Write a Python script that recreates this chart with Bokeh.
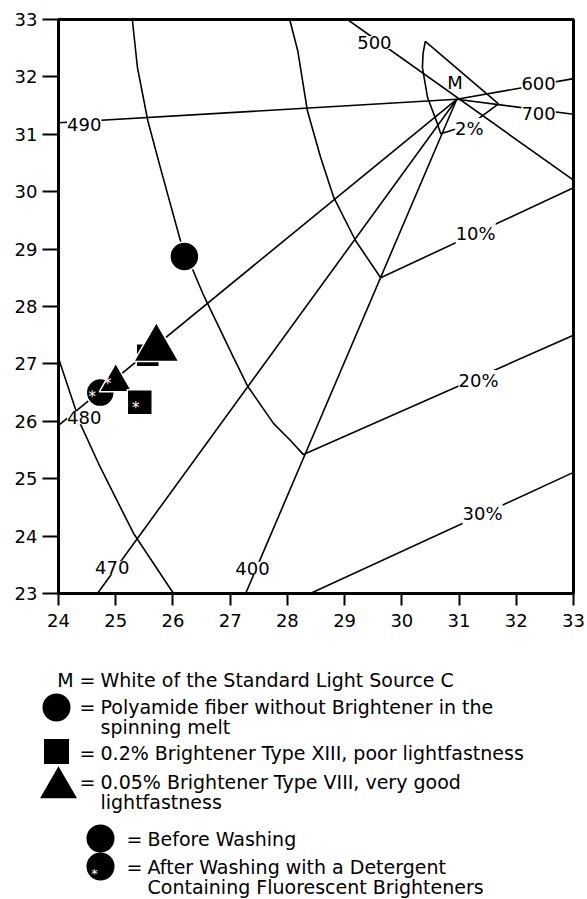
from bokeh.plotting import figure
from bokeh.models import ColumnDataSource, LabelSet, FixedTicker, Range1d
from bokeh.layouts import column
from bokeh.embed import file_html
from bokeh.resources import INLINE
from bokeh.core.properties import value

FONT = "DejaVu Sans"

# ---------------- data ----------------
x_ticks = [24, 25, 26, 27, 28, 29, 30, 31, 32, 33]
y_ticks = [23, 24, 25, 26, 27, 28, 29, 30, 31, 32, 33]

# white point M (Standard Light Source C)
m_x = 30.96
m_y = 31.61

# dominant-wavelength lines radiating from M (end points)
ray_names = ["490", "600", "700", "480", "470", "400"]
ray_end_x = [24.0, 33.0, 33.0, 24.0, 24.68, 27.27]
ray_end_y = [31.20, 31.97, 31.35, 25.93, 23.0, 23.0]

# the 500 nm line passes through M
line500_x = [29.05, 33.0]
line500_y = [33.0, 30.20]

# constant-lightness curves with their saturation branches
curve_a_x = [25.29, 25.38, 25.56, 25.78, 26.13, 26.52, 27.06, 27.30, 27.76, 28.05, 28.28, 33.0]
curve_a_y = [33.0, 32.16, 31.24, 30.42, 29.15, 28.23, 27.11, 26.62, 25.96, 25.67, 25.42, 27.50]
curve_b_x = [28.04, 28.18, 28.35, 28.58, 28.81, 29.19, 29.63, 33.0]
curve_b_y = [33.0, 32.46, 31.41, 30.60, 29.90, 29.15, 28.50, 30.07]
curve_c_x = [24.0, 24.20, 24.38, 24.73, 25.31, 26.01]
curve_c_y = [27.10, 26.50, 25.96, 25.20, 24.05, 23.0]
sat30_x = [28.40, 33.0]
sat30_y = [23.0, 25.11]
# 2 % region around M
locus_x = [31.69, 30.41, 30.37, 30.36, 30.45, 30.62, 30.68, 31.20, 31.69]
locus_y = [31.53, 32.62, 32.40, 32.16, 31.64, 31.19, 31.01, 31.17, 31.53]

# contour / wavelength labels
lab_text = ["490", "500", "600", "700", "480", "470", "400", "10%", "20%", "30%", "2%"]
lab_x = [24.45, 29.52, 32.39, 32.39, 24.45, 24.94, 27.39, 31.29, 31.34, 31.41, 31.18]
lab_y = [31.17, 32.60, 31.88, 31.37, 26.06, 23.45, 23.44, 29.27, 26.71, 24.39, 31.10]

# samples: polyamide (no brightener), 0.2% Type XIII, 0.05% Type VIII
sample_marker = ["circle", "square", "triangle"]
before_x = [26.20, 25.56, 25.71]
before_y = [28.87, 27.15, 27.27]
after_x = [24.73, 25.42, 25.00]
after_y = [26.50, 26.33, 26.68]

# legend texts
legend_lines = [
    "White of the Standard Light Source C",
    "Polyamide fiber without Brightener in the",
    "spinning melt",
    "0.2% Brightener Type XIII, poor lightfastness",
    "0.05% Brightener Type VIII, very good",
    "lightfastness",
    "Before Washing",
    "After Washing with a Detergent",
    "Containing Fluorescent Brighteners",
]

# ---------------- styles ----------------
before_size = [29, 23, 45]
after_size = [28, 25, 33]
after_star_dx = [-8, -4, -8]
after_star_dy = [4, 6, 2]

W = 587
H_MAIN = 640

p = figure(width=W, height=H_MAIN, x_range=Range1d(24, 33), y_range=Range1d(23, 33),
           output_backend="svg", toolbar_location=None,
           min_border_left=58, min_border_right=14, min_border_top=19, min_border_bottom=H_MAIN - 593)
p.frame_align = False
p.grid.visible = False
p.outline_line_color = "black"
p.outline_line_width = 3
p.background_fill_color = "white"
p.border_fill_color = "white"

for ax, tick_out, standoff in ((p.xaxis[0], 12, 8), (p.yaxis[0], 16, 5)):
    ax.axis_line_width = 3
    ax.axis_line_color = "black"
    ax.major_tick_out = tick_out
    ax.major_tick_in = 0
    ax.major_tick_line_width = 2
    ax.minor_tick_line_color = None
    ax.major_label_text_font = FONT
    ax.major_label_text_font_size = "18px"
    ax.major_label_text_color = "black"
    ax.major_label_standoff = standoff
p.xaxis[0].ticker = FixedTicker(ticks=x_ticks)
p.yaxis[0].ticker = FixedTicker(ticks=y_ticks)
p.xaxis[0].major_label_overrides = {t: str(t) for t in x_ticks}
p.yaxis[0].major_label_overrides = {t: str(t) for t in y_ticks}

line_kw = dict(line_color="black", line_width=1.6)

# radial lines
ray_xs = [[m_x, ex] for ex in ray_end_x]
ray_ys = [[m_y, ey] for ey in ray_end_y]
p.multi_line(xs=ray_xs, ys=ray_ys, **line_kw)
p.line(line500_x, line500_y, **line_kw)
p.line(curve_a_x, curve_a_y, **line_kw)
p.line(curve_b_x, curve_b_y, **line_kw)
p.line(curve_c_x, curve_c_y, **line_kw)
p.line(sat30_x, sat30_y, **line_kw)
p.line(locus_x, locus_y, **line_kw)

# samples, drawn in overlap order
order = [(1, "b"), (2, "b"), (0, "b"), (0, "a"), (2, "a"), (1, "a")]
sx, sy, sm, ss = [], [], [], []
for i, kind in order:
    sx.append(before_x[i] if kind == "b" else after_x[i])
    sy.append(before_y[i] if kind == "b" else after_y[i])
    sm.append(sample_marker[i])
    ss.append(before_size[i] if kind == "b" else after_size[i])
src = ColumnDataSource(dict(x=sx, y=sy, marker=sm, size=ss))
p.scatter(x="x", y="y", marker="marker", size="size", source=src,
          fill_color="black", line_color="white", line_width=1.5)

star_src = ColumnDataSource(dict(x=after_x, y=after_y, t=["*"] * 3,
                                 dx=after_star_dx, dy=after_star_dy))
p.text(x="x", y="y", text="t", x_offset="dx", y_offset="dy", source=star_src,
       text_color="white", text_font=value(FONT), text_font_size="15px",
       text_align="center", text_baseline="middle")

lab_src = ColumnDataSource(dict(x=lab_x, y=lab_y, t=lab_text))
p.add_layout(LabelSet(x="x", y="y", text="t", source=lab_src, text_font=value(FONT),
                      text_font_size="18px", text_color="black", text_align="center",
                      text_baseline="middle", background_fill_color="white"))
m_src = ColumnDataSource(dict(x=[m_x - 0.03], y=[m_y + 0.29], t=["M"]))
p.add_layout(LabelSet(x="x", y="y", text="t", source=m_src, text_font=value(FONT),
                      text_font_size="18px", text_color="black", text_align="center",
                      text_baseline="middle"))

# ---------------- legend panel (pixel coordinates) ----------------
H_LEG = 899 - H_MAIN
lg = figure(width=W, height=H_LEG, x_range=Range1d(0, W), y_range=Range1d(899, H_MAIN),
            output_backend="svg", toolbar_location=None,
            x_axis_location=None, y_axis_location=None,
            min_border=0, min_border_left=0, min_border_right=0,
            min_border_top=0, min_border_bottom=0)
lg.frame_align = False
lg.grid.visible = False
lg.outline_line_color = None
lg.background_fill_color = "white"
lg.border_fill_color = "white"

text_x1 = 100
text_x2 = 147
line_y = [679, 706, 726, 752, 781, 801, 838, 866, 886]
line_x = [text_x1] * 6 + [text_x2] * 3
lg.text(x=line_x, y=line_y, text=legend_lines, text_font=value(FONT), text_font_size="19px",
        text_color="black", text_baseline="middle", text_align="left")
eq_x = [87, 87, 87, 87, 134, 134]
eq_y = [679, 706, 752, 781, 838, 866]
lg.text(x=eq_x, y=eq_y, text=["="] * 6, text_font=value(FONT), text_font_size="19px",
        text_color="black", text_baseline="middle", text_align="center")
lg.text(x=[65], y=[679], text=["M"], text_font=value(FONT), text_font_size="19px",
        text_color="black", text_baseline="middle", text_align="center")
lg.scatter(x=[56, 56, 58, 100, 100], y=[707, 751, 787, 838, 866],
           marker=["circle", "square", "triangle", "circle", "circle"],
           size=[28, 25, 37, 28, 28], fill_color="black", line_color=None)
lg.text(x=[94], y=[873], text=["*"], text_font=value(FONT), text_font_size="13px",
        text_color="white", text_baseline="middle", text_align="center")

layout = column(p, lg, spacing=0)
open("out.html", "w").write(file_html(layout, INLINE))
